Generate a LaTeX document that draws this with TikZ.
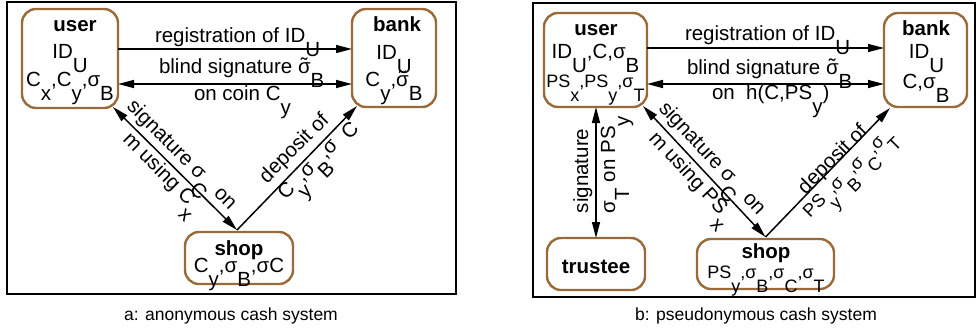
\documentclass[tikz,border=0pt]{standalone}
\usepackage{fontspec}
\setmainfont{Liberation Sans}
\usetikzlibrary{arrows.meta,calc}
\definecolor{boxbrown}{RGB}{155,106,58}
% lowered index, set at nearly full size
\newcommand\lo[1]{\raisebox{-14pt}{#1}}
% sigma with a tilde on top
\newcommand\tsig{{\setbox0\hbox{σ}\rlap{\hbox to\wd0{\hss\raisebox{0.02em}{˜}\hss}}\box0}}
\begin{document}
\begin{tikzpicture}[x=1pt,y=-1pt,
  every node/.style={inner sep=0pt, outer sep=0pt, font=\fontsize{20.5}{24}\selectfont},
  party/.style={draw=boxbrown, line width=2.4pt, rounded corners=14pt, fill=white},
  who/.style={anchor=base, font=\fontsize{20.5}{24}\selectfont\bfseries},
  txt/.style={anchor=base},
  small/.style={anchor=base, font=\fontsize{18}{22}\selectfont},
  lbl/.style={anchor=base west},
  arr/.style={line width=1.5pt, -{Triangle[length=16pt,width=8pt]}},
  dbl/.style={line width=1.5pt, {Triangle[length=16pt,width=8pt]}-{Triangle[length=16pt,width=8pt]}},
  frame/.style={draw=black, line width=1.3pt},
  capt/.style={anchor=base, font=\fontsize{17.5}{20}\selectfont}]
\useasboundingbox (0,0) rectangle (976,330);

% ---------------- a: anonymous cash system ----------------
\draw[frame] (7,2) rectangle (456,294);

\node[party, minimum width=96pt, minimum height=99pt] (ua) at (70,58.5) {};
\node[party, minimum width=84pt, minimum height=98pt] (ba) at (394,58) {};
\node[party, minimum width=108pt, minimum height=52pt] (sa) at (239,258) {};

\node[who] (ua-n) at (75,31.5) {user};
\node[txt] (ua-1) at (70,58) {ID\lo{U}};
\node[txt] (ua-2) at (70,86) {C\lo{x},C\lo{y},σ\lo{B}};

\node[who] (ba-n) at (397,31) {bank};
\node[txt] (ba-1) at (394,59) {ID\lo{U}};
\node[txt] (ba-2) at (394,86) {C\lo{y},\tsig\lo{B}};

\node[who] (sa-n) at (239,255) {shop};
\node[txt] (sa-1) at (239,272) {C\lo{y},σ\lo{B},σC};

% messages between the parties
\draw[arr] (ua.east |- 0,49) -- (ba.west |- 0,49);
\draw[dbl] (ua.east |- 0,84) -- (ba.west |- 0,84);
\coordinate (ua-c) at ($(ua.south east)+(-5,-1)$);
\coordinate (sa-v) at ($(sa.north)+(-2,-2)$);
\coordinate (ba-c) at ($(ba.south west)+(5,-1)$);
\draw[dbl] (ua-c) -- (sa-v);
\draw[arr] (sa-v) -- (ba-c);

\node[lbl] (la-1) at (155,42) {registration of ID\lo{U}};
\node[lbl] (la-2) at (159,73) {blind signature \tsig\lo{B}};
\node[lbl] (la-3) at (194,100) {on coin C\lo{y}};
\node[lbl, rotate=-45] (la-4) at (126,107.6) {signature σ\lo{C} on};
\node[lbl, rotate=-45] (la-5) at (122,140.6) {m using C\lo{x}};
\node[lbl, rotate=45] (la-6) at (267,184) {deposit of};
\node[lbl, rotate=45] (la-7) at (285.5,200) {C\lo{y},σ\lo{B},σ\hspace{12pt}\raisebox{-3pt}{C}};

\node[capt] (capa) at (231,320) {a: anonymous cash system};

% ---------------- b: pseudonymous cash system ----------------
\draw[frame] (533,3) rectangle (975,297);

\node[party, minimum width=103pt, minimum height=94pt] (ub) at (595.5,60) {};
\node[party, minimum width=83pt, minimum height=94pt] (bb) at (925.5,60) {};
\node[party, minimum width=98pt, minimum height=52pt] (tb) at (596,264) {};
\node[party, minimum width=137pt, minimum height=50pt] (sb) at (765.5,264) {};

\node[who] (ub-n) at (596,35) {user};
\node[txt] (ub-1) at (595.5,58) {ID\lo{U},C,σ\lo{B}};
\node[small] (ub-2) at (595.5,87) {PS\lo{x},PS\lo{y},σ\lo{T}};

\node[who] (bb-n) at (926,35) {bank};
\node[txt] (bb-1) at (926.5,58) {ID\lo{U}};
\node[txt] (bb-2) at (926,88) {C,σ\lo{B}};

\node[who] (tb-n) at (596,273) {trustee};

\node[who] (sb-n) at (766,258) {shop};
\node[small] (sb-1) at (766,278) {PS\lo{y},σ\lo{B},σ\lo{C},σ\lo{T}};

% messages between the parties
\draw[arr] (ub.east |- 0,48) -- (bb.west |- 0,48);
\draw[dbl] (ub.east |- 0,84) -- (bb.west |- 0,84);
\draw[dbl] (tb.north |- ub.south) -- (tb.north);
\coordinate (ub-c) at ($(ub.south east)+(-4,-1)$);
\coordinate (sb-v) at ($(sb.north)+(0,-2)$);
\coordinate (bb-c) at ($(bb.south west)+(6,1)$);
\draw[dbl] (ub-c) -- (sb-v);
\draw[arr] (sb-v) -- (bb-c);

\node[lbl] (lb-1) at (685,40) {registration of ID\lo{U}};
\node[lbl] (lb-2) at (687,74) {blind signature \tsig\lo{B}};
\node[lbl] (lb-3) at (712,99) {on\ \ h(C,PS\lo{y})};
\node[lbl, rotate=90] (lb-4) at (588,213) {signature};
\node[lbl, rotate=90] (lb-5) at (615,213) {σ\lo{T} on PS\lo{y}};
\node[lbl, rotate=-47] (lb-6) at (658,109) {signature σ\lo{C} on};
\node[lbl, rotate=-47] (lb-7) at (648,139) {m using PS\lo{x}};
\node[lbl, rotate=45] (lb-8) at (805.5,195) {deposit of};
\node[lbl, rotate=45, font=\fontsize{18}{22}\selectfont] (lb-9) at (810,218) {PS\lo{y},σ\lo{B},σ\lo{C},σ\lo{T}};

\node[capt] (capb) at (756,320) {b: pseudonymous cash system};
\end{tikzpicture}
\end{document}
